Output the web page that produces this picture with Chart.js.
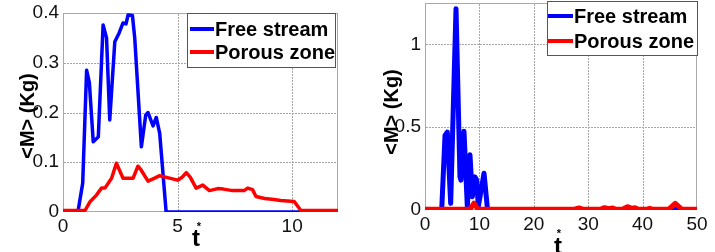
<!DOCTYPE html>
<html><head><meta charset="utf-8">
<script src="https://cdn.jsdelivr.net/npm/chart.js@4.4.1/dist/chart.umd.min.js"></script>
<style>
html,body{margin:0;padding:0;background:#fff;}
#w{position:relative;width:715px;height:252px;overflow:hidden;}
canvas{position:absolute;top:0;}
</style></head>
<body><div id="w"><canvas id="c1" width="357" height="252" style="left:0;width:357px;height:252px"></canvas><canvas id="c2" width="358" height="252" style="left:357px;width:358px;height:252px"></canvas></div>
<script>
// ---- data ----
const seriesNames = ["Free stream", "Porous zone"];
const yTitle = "<M> (Kg)";
const xTitle = "t";

const leftXTicks = [0, 5, 10];
const leftYTicks = [0, 0.1, 0.2, 0.3, 0.4];
const leftFreeT = [0, 0.65, 0.86, 1.03, 1.15, 1.32, 1.54, 1.75, 1.9, 2.04, 2.26, 2.45, 2.62, 2.75, 2.84, 3.03, 3.13, 3.42, 3.61, 3.71, 3.93, 4.07, 4.22, 4.5, 12];
const leftFreeM = [0, 0, 0.058, 0.285, 0.26, 0.141, 0.151, 0.376, 0.35, 0.185, 0.342, 0.36, 0.38, 0.378, 0.396, 0.395, 0.35, 0.131, 0.195, 0.2, 0.173, 0.19, 0.158, 0, 0];
const leftPorT = [0, 0.96, 1.17, 1.46, 1.68, 1.83, 2.12, 2.33, 2.62, 3.06, 3.27, 3.4, 3.71, 4.0, 4.22, 4.65, 5.0, 5.2, 5.38, 5.55, 5.81, 6.1, 6.39, 6.75, 7.0, 7.4, 7.9, 8.06, 8.27, 8.42, 8.8, 9.2, 9.5, 10.09, 10.38, 12];
const leftPorM = [0.003, 0.003, 0.02, 0.034, 0.048, 0.048, 0.068, 0.098, 0.068, 0.068, 0.092, 0.085, 0.062, 0.068, 0.073, 0.068, 0.064, 0.07, 0.079, 0.07, 0.048, 0.054, 0.043, 0.047, 0.046, 0.043, 0.043, 0.048, 0.045, 0.031, 0.027, 0.025, 0.023, 0.021, 0.003, 0.003];

const rightXTicks = [0, 10, 20, 30, 40, 50];
const rightYTicks = [0, 0.5, 1];
const rightFreeT = [0, 3.07, 3.68, 4.1, 4.72, 5.7, 6.43, 6.6, 7.17, 7.78, 8.27, 8.7, 9.19, 9.5, 9.8, 10.85, 11.5, 45.5, 46, 46.5, 50];
const rightFreeM = [0, 0, 0.45, 0.47, 0.04, 1.216, 0.2, 0.18, 0.475, 0.02, 0.333, 0.08, 0.2, 0.18, 0.02, 0.222, 0, 0, 0.01, 0, 0];
const rightPorT = [0, 8.3, 9.0, 9.7, 27.5, 28.3, 29, 32.3, 33, 33.8, 34.5, 35, 36.3, 37.2, 38, 38.6, 39.2, 40.8, 41.3, 41.8, 44.8, 46, 47.2, 50];
const rightPorM = [0.005, 0.005, 0.042, 0.005, 0.005, 0.012, 0.005, 0.005, 0.014, 0.008, 0.012, 0.005, 0.005, 0.02, 0.01, 0.014, 0.005, 0.005, 0.01, 0.005, 0.005, 0.04, 0.005, 0.005];

const BLUE = "#0000ff", RED = "#ff0000", GRID = "#a6a6a6", BOX = "#a9a9a9";
const pts = (t, m) => t.map((v, i) => ({x: v, y: m[i]}));

function makeChart(id, cfg) {
  const frame = {
    id: 'frame',
    beforeDatasetsDraw(chart) {
      const {ctx, chartArea: a} = chart;
      const sx = chart.scales.x, sy = chart.scales.y;
      ctx.save();
      ctx.fillStyle = GRID;
      const L = Math.round(a.left), R = Math.round(a.right), T = Math.round(a.top), B = Math.round(a.bottom);
      cfg.xTicks.forEach(v => {
        if (v <= cfg.xmin || v >= cfg.xmax) return;
        const x = Math.round(sx.getPixelForValue(v));
        for (let y = T + 1; y < B - 1; y += 3) ctx.fillRect(x, y, 1, 2);
      });
      cfg.yTicks.forEach(v => {
        if (v <= cfg.ymin || v >= cfg.ymax) return;
        const y = Math.round(sy.getPixelForValue(v));
        for (let x = L + 1; x < R - 1; x += 3) ctx.fillRect(x, y, 2, 1);
      });
      ctx.strokeStyle = BOX; ctx.lineWidth = 1;
      ctx.strokeRect(L + 0.5, T + 0.5, R - L - 1, B - T - 1);
      ctx.restore();
    },
    afterDatasetsDraw(chart) {
      const ctx = chart.ctx; const L = cfg.legend;
      ctx.save();
      ctx.fillStyle = "#fff"; ctx.fillRect(L.x, L.y, L.w, L.h);
      ctx.strokeStyle = "#555"; ctx.lineWidth = 1;
      ctx.strokeRect(L.x + 0.5, L.y + 0.5, L.w - 1, L.h - 1);
      const cols = [BLUE, RED];
      seriesNames.forEach((n, i) => {
        const y = L.rows[i];
        ctx.strokeStyle = cols[i]; ctx.lineWidth = 4; ctx.lineCap = 'butt';
        ctx.beginPath(); ctx.moveTo(L.lx0, y); ctx.lineTo(L.lx1, y); ctx.stroke();
        ctx.fillStyle = "#000"; ctx.font = "bold 20px 'Liberation Sans', Arial, sans-serif";
        ctx.textBaseline = 'middle'; ctx.textAlign = 'left';
        ctx.fillText(n, L.tx, y + 1);
      });
      ctx.restore();
    },
    afterDraw(chart) {
      const ctx = chart.ctx; const T = cfg.titles;
      ctx.save();
      ctx.fillStyle = "#000";
      ctx.font = "bold 20px 'Liberation Sans', Arial, sans-serif";
      ctx.textAlign = 'center'; ctx.textBaseline = 'middle';
      ctx.translate(T.yx, T.yy); ctx.rotate(-Math.PI / 2);
      ctx.fillText(yTitle, 0, 0);
      ctx.restore();
      ctx.save();
      ctx.fillStyle = "#000";
      ctx.font = "bold 24px 'Liberation Sans', Arial, sans-serif";
      ctx.textAlign = 'center'; ctx.textBaseline = 'alphabetic';
      ctx.fillText(xTitle, T.tx, T.ty);
      ctx.font = "bold 11px 'Liberation Sans', Arial, sans-serif";
      ctx.fillText("*", T.sx, T.sy);
      ctx.restore();
    }
  };
  const tickFont = {family: "'Liberation Sans', Arial, sans-serif", size: 19};
  const ds = (label, data, color) => ({label, data, borderColor: color, borderWidth: cfg.lw, pointRadius: 0, tension: 0, clip: 0,
    borderJoinStyle: 'round', borderCapStyle: 'round'});
  const red = ds(seriesNames[1], pts(cfg.porT, cfg.porM), RED); red.order = 0;
  const blue = ds(seriesNames[0], pts(cfg.freeT, cfg.freeM), BLUE); blue.order = 1;
  return new Chart(document.getElementById(id), {
    type: 'line',
    data: {datasets: [red, blue]},
    options: {
      responsive: false, animation: false, devicePixelRatio: 1,
      layout: {padding: {top: cfg.area.top, right: cfg.area.right, left: 0, bottom: 0}},
      plugins: {legend: {display: false}, tooltip: {enabled: false}},
      scales: {
        x: {
          type: 'linear', min: cfg.xmin, max: cfg.xmax,
          afterBuildTicks: s => { s.ticks = cfg.xTicks.map(v => ({value: v})); },
          afterFit: s => { s.height = cfg.area.bottom; s.paddingLeft = 0; s.paddingRight = 0; s.paddingTop = 0; s.paddingBottom = 0; },
          border: {display: false},
          grid: {display: false, drawTicks: false},
          ticks: {font: tickFont, color: '#111', padding: 3, maxRotation: 0, autoSkip: false, callback: v => String(v)}
        },
        y: {
          type: 'linear', min: cfg.ymin, max: cfg.ymax,
          afterBuildTicks: s => { s.ticks = cfg.yTicks.map(v => ({value: v})); },
          afterFit: s => { s.width = cfg.area.left; s.paddingLeft = 0; s.paddingRight = 0; s.paddingTop = 0; s.paddingBottom = 0; },
          border: {display: false},
          grid: {display: false, drawTicks: false},
          ticks: {font: tickFont, color: '#111', padding: 4, autoSkip: false, callback: v => String(v)}
        }
      }
    },
    plugins: [frame]
  });
}

makeChart('c1', {
  freeT: leftFreeT, freeM: leftFreeM, porT: leftPorT, porM: leftPorM,
  xTicks: leftXTicks, yTicks: leftYTicks, xmin: 0, xmax: 12, ymin: 0, ymax: 0.4, lw: 3.5,
  area: {left: 63, top: 13, right: 19, bottom: 40},
  legend: {x: 187, y: 13, w: 149, h: 55, rows: [29, 52], lx0: 190, lx1: 214, tx: 215},
  titles: {yx: 28, yy: 116, tx: 196, ty: 246, sx: 199, sy: 230}
});
makeChart('c2', {
  freeT: rightFreeT, freeM: rightFreeM, porT: rightPorT, porM: rightPorM,
  xTicks: rightXTicks, yTicks: rightYTicks, xmin: 0, xmax: 50, ymin: 0, ymax: 1.25, lw: 5,
  area: {left: 68, top: 3, right: 18, bottom: 42},
  legend: {x: 190, y: 1, w: 151, h: 55, rows: [16, 41], lx0: 191, lx1: 216, tx: 217},
  titles: {yx: 35, yy: 112, tx: 201, ty: 254, sx: 202, sy: 237}
});
</script>
</body></html>
